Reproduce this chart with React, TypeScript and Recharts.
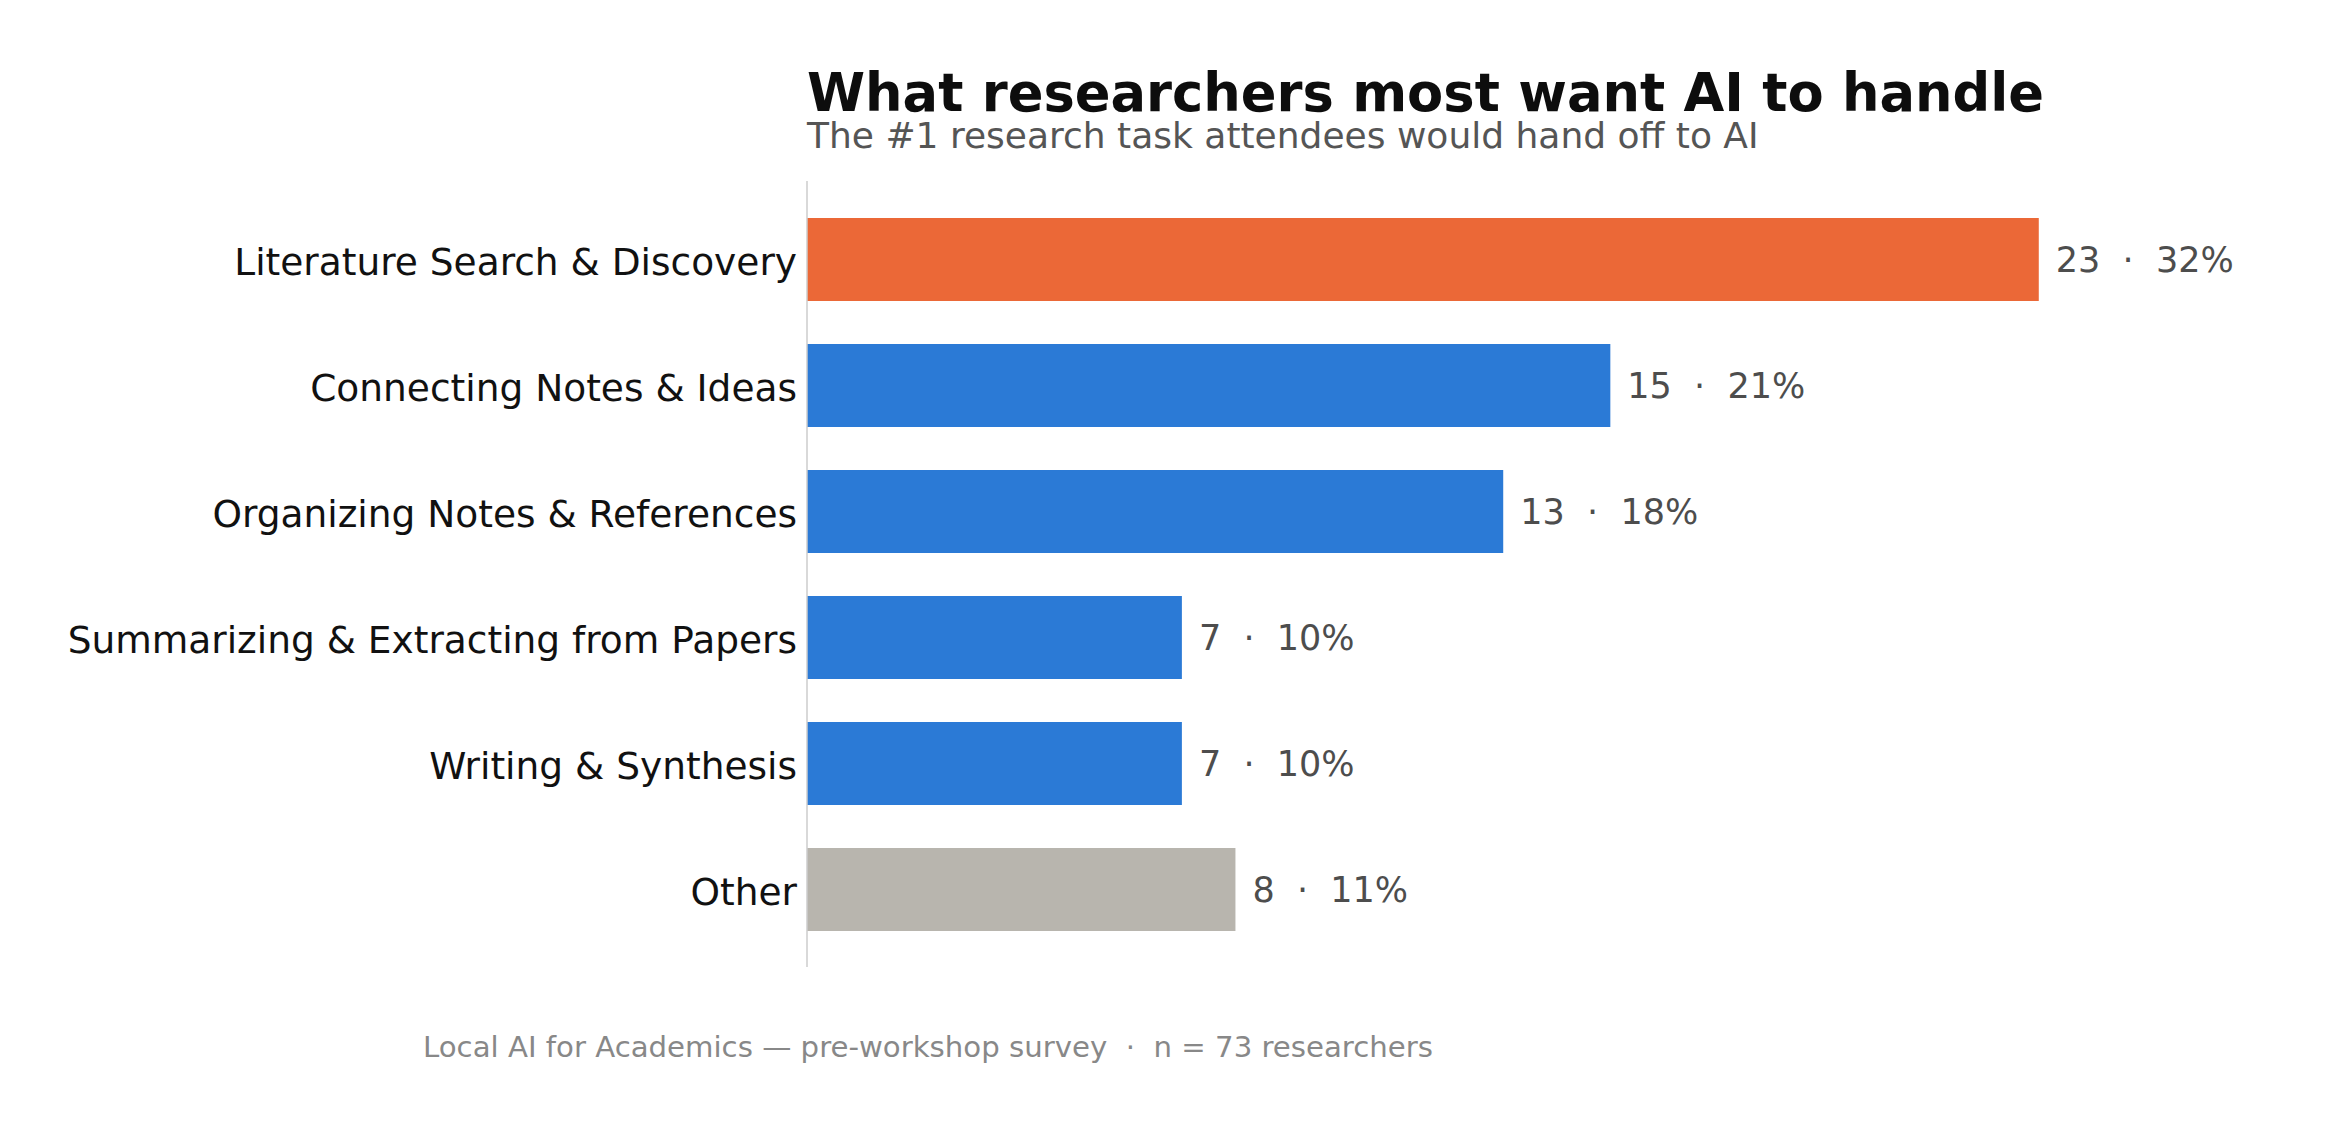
import React from "react"
import { BarChart, Bar, XAxis, YAxis, Cell, LabelList } from "recharts"

const categories = [
  "Literature Search & Discovery",
  "Connecting Notes & Ideas",
  "Organizing Notes & References",
  "Summarizing & Extracting from Papers",
  "Writing & Synthesis",
  "Other",
]
const counts = [23, 15, 13, 7, 7, 8]
const barColors = ["#eb6837", "#2b7ad6", "#2b7ad6", "#2b7ad6", "#2b7ad6", "#b8b5ae"]
const respondents = 73

const data = categories.map((task, i) => ({
  task,
  count: counts[i],
  label: `${counts[i]}  ·  ${Math.round((counts[i] / respondents) * 100)}%`,
}))

const FONT = "'DejaVu Sans', Verdana, sans-serif"

function ValueLabel(props: any) {
  const { x, y, width, height, value } = props
  return (
    <text
      x={x + width + 17}
      y={y + height / 2}
      dy="0.37em"
      fontSize={35}
      fill="#4d4d4d"
      fontFamily={FONT}
      style={{ whiteSpace: "pre" }}
    >
      {value}
    </text>
  )
}

function TaskTick(props: any) {
  const { x, y, payload } = props
  return (
    <text x={x} y={y} dy="0.42em" textAnchor="end" fontSize={37.5} fill="#111111" fontFamily={FONT}>
      {payload.value}
    </text>
  )
}

export default function App() {
  return (
    <div style={{ position: "absolute", left: 0, top: 0, width: 2330, height: 1132, background: "#fff" }}>
      <BarChart
        width={2330}
        height={1132}
        data={data}
        layout="vertical"
        margin={{ top: 181, right: 77, bottom: 165, left: 0 }}
      >
        <XAxis type="number" domain={[0, 27]} hide />
        <YAxis
          type="category"
          dataKey="task"
          width={807}
          padding={{ top: 15, bottom: 15 }}
          tickLine={false}
          tickSize={0}
          tickMargin={10}
          axisLine={{ stroke: "#cccccc", strokeWidth: 1.5 }}
          tick={<TaskTick />}
          interval={0}
        />
        <Bar dataKey="count" barSize={83} isAnimationActive={false}>
          {data.map((d, i) => (
            <Cell key={d.task} fill={barColors[i]} />
          ))}
          <LabelList dataKey="label" content={<ValueLabel />} />
        </Bar>
      </BarChart>
      <svg
        width={2330}
        height={1132}
        style={{ position: "absolute", left: 0, top: 0, pointerEvents: "none" }}
      >
        <text x={807} y={111} fontSize={52.7} fontWeight="bold" fill="#0d0d0d" fontFamily={FONT}>
          What researchers most want AI to handle
        </text>
        <text x={807} y={148} fontSize={36} fill="#555555" fontFamily={FONT}>
          The #1 research task attendees would hand off to AI
        </text>
        <text x={423} y={1057} fontSize={29.2} fill="#888888" fontFamily={FONT} style={{ whiteSpace: "pre" }}>
          Local AI for Academics — pre-workshop survey  ·  n = 73 researchers
        </text>
      </svg>
    </div>
  )
}
